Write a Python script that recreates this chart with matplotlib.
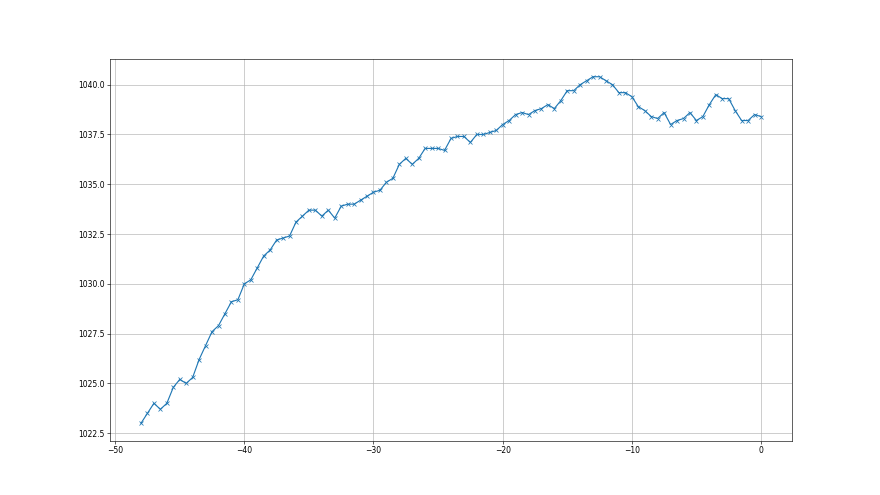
# Line chart with 'x' markers: readings every 0.5 step from -48 to 0
import numpy as np
import matplotlib
matplotlib.use('Agg')
import matplotlib.pyplot as plt

# ── Data ─────────────────────────────────────────────────────
# x positions: -48 .. 0 in half steps
x_values = np.arange(-48, 0.01, 0.5)

# y readings
y_values = [
    1023.0, 1023.5, 1024.0, 1023.7, 1024.0, 1024.8, 1025.2, 1025.0,
    1025.3, 1026.2, 1026.9, 1027.6, 1027.9, 1028.5, 1029.1, 1029.2,
    1030.0, 1030.2, 1030.8, 1031.4, 1031.7, 1032.2, 1032.3, 1032.4,
    1033.1, 1033.4, 1033.7, 1033.7, 1033.4, 1033.7, 1033.3, 1033.9,
    1034.0, 1034.0, 1034.2, 1034.4, 1034.6, 1034.7, 1035.1, 1035.3,
    1036.0, 1036.3, 1036.0, 1036.3, 1036.8, 1036.8, 1036.8, 1036.7,
    1037.3, 1037.4, 1037.4, 1037.1, 1037.5, 1037.5, 1037.6, 1037.7,
    1038.0, 1038.2, 1038.5, 1038.6, 1038.5, 1038.7, 1038.8, 1039.0,
    1038.8, 1039.2, 1039.7, 1039.7, 1040.0, 1040.2, 1040.4, 1040.4,
    1040.2, 1040.0, 1039.6, 1039.6, 1039.4, 1038.9, 1038.7, 1038.4,
    1038.3, 1038.6, 1038.0, 1038.2, 1038.3, 1038.6, 1038.2, 1038.4,
    1039.0, 1039.5, 1039.3, 1039.3, 1038.7, 1038.2, 1038.2, 1038.5,
    1038.4,
]

# ── Plotting ──────────────────────────────────────────────────
# 16x9 inches at 55 dpi gives 880x495 pixels
fig, ax = plt.subplots(figsize=(16, 9), dpi=55)

ax.plot(x_values, y_values, 'x-', color='#1f77b4')
ax.grid(True)

plt.savefig('out.png', dpi=55)
